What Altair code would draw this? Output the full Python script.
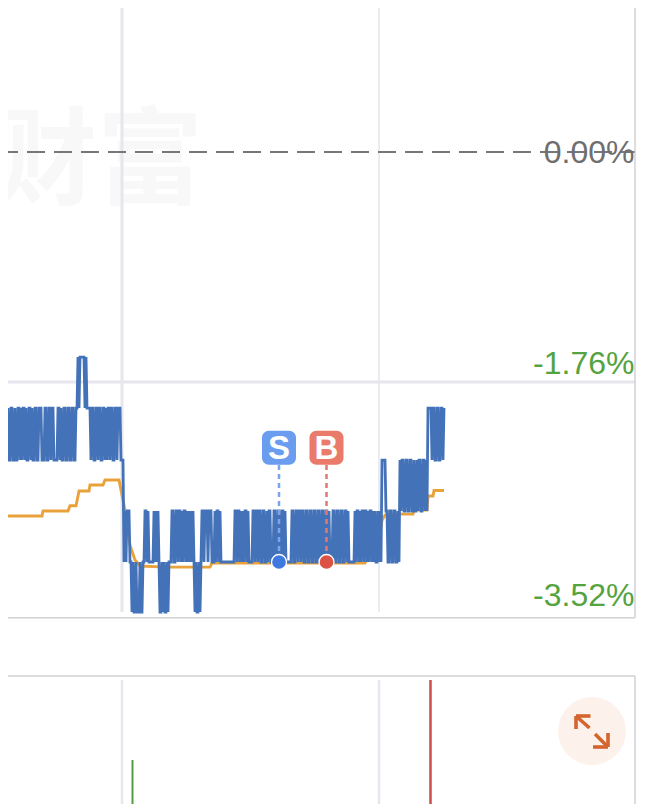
import altair as alt
import pandas as pd

# ---- price levels (percent change) that the blue series sits on
price_levels = [-3.52, -3.137, -2.747, -2.357, -1.959, -1.569]

# blue series: level index for every sampled tick, starting at tick 8
blue_start = 8
blue_a = [4,3,3,4,4,3,3,4,3,3,4,4,3,4,3,4,4,3,4,3,3,4,4,3,4,3,3,4,4,3,3,4,4,4,3,3,3,4,4,3,3,4,4,3,4,4,3,3,3,3,4,4,3,4,3,3,4,4,3,3,4,4,3,3,4,4,3,3,4,4,
          5,4,5,5,5,5,5,4,5,4,4,4,4,3,4,4,3,3,4,4,3,4,4,3,3,4,4,3,4,3,4,4,3,4,4,3,3,4,4,3,4,4,4,3,3,3]
blue_b = [1,2,1,2,2,2,1,1,0,1,0,0,1,0,0,0,1,0,0,1,1,2,2,1,2,1,1,1,1,1,2,1,2,1,2,1,0,0,1,0,1,0,0,1,0,1,1,1,
          2,2,1,1,2,2,1,2,2,1,2,1,2,2,1,2,1,2,1,2,1,2,1,0,1,0,0,1,0,1,2,2,1,2,2,2,1,2,2,2,1,1,1,2,1,2,2,1,2,1,1]
blue_c = [1,1,1,1,1,1,1,1,1,1,1,1,2,2,1,2,2,1,2,1,2,1,2,2,1,2,1,1,1,1,2,2,1,2,2,1,2,2,1,1,2,2,1,1,2,1,2,2,1,1,1,
          2,2,1,1,2,2,1,1,2,2,1,2,1,1,1,1,1,1,2,2,1,1,2,2,1,2,2,1,2]
blue_d = [2,1,1,2,2,1,1,2,2,1,1,2,2,1,1,2,2,1,1,2,2,1,1,2,2,1,2,1,1,1,
          2,2,1,1,2,2,1,1,2,2,1,1,2,2,1,2,1,1,1,1,1,1,2,1,2,2,1,2,1,2,2,1,2,2,1,2,1,
          2,2,1,2,1,2,1,1,2,1,2,1,3,3,3,3,2]
blue_e = [2,1,1,2,2,1,1,2,2,1,1,2,1,
          3,2,3,3,2,2,3,3,2,2,3,3,2,2,3,2,2,3,2,3,3,2,2,3,3,2,3,2,
          4,4,4,4,3,4,4,3,3,4,4,3,3,4,4,3,4]
blue_series = blue_a + blue_b + blue_c + blue_d + blue_e

# orange series (average price)
orange_x = [8,42,43,68,70,76,79,89,90,103,105,119,121,125,130,135,140,167,210,212,365,368,372,378,382,385,400,413,414,427,428,433,434,444]
orange_y = [-2.785,-2.785,-2.747,-2.747,-2.707,-2.707,-2.594,-2.594,-2.548,-2.548,-2.510,-2.510,-2.587,-2.740,-3.008,-3.122,-3.168,-3.176,-3.176,-3.145,-3.145,-3.107,-3.100,-3.008,-2.817,-2.778,-2.771,-2.771,-2.740,-2.740,-2.632,-2.632,-2.590,-2.590]

# axis / reference values
tick_zero, tick_mid, tick_low = 0.0, -1.76, -3.52
grid_ticks = [122, 379]
grid_widths = [3, 1.5]
frame_right = 635
label_x = 634.5
chart_left, chart_right = 8, 646
top_pct, bottom_pct = 1.102, -3.734
frame_bottom_pct = -3.564
grid_end_pct = -3.52

# trade markers
trade_tick = [279, 326.5]
trade_letter = ["S", "B"]
trade_level = -3.137
trade_badge = [-2.262, -2.262]
trade_colors = ["#6a9df0", "#ea7b6b"]
trade_dot_colors = ["#3f79e0", "#dc5345"]
trade_line_colors = ["#7ba4ee", "#e07a70"]
trade_line_top = -2.395

# volume panel
vol_tick = [132.5, 430.5]
vol_value = [52, 132]
vol_colors = ["#559c3f", "#cb4f47"]
vol_widths = [2, 2.5]
vol_top, vol_min, vol_max = 136, 8, 142

# expand button
button_tick, button_value = 592, 81
icon_segments = [
    (589.5, 84, 576, 96), (576, 96, 590.5, 96), (576, 96, 576, 83),
    (595, 78, 608, 65), (608, 65, 593, 65), (608, 65, 608, 79),
]

y_scale = alt.Scale(domain=[bottom_pct, top_pct], nice=False, zero=False)
x_up = alt.X("x:Q", axis=None, scale=alt.Scale(domain=[chart_left, chart_right], nice=False, zero=False))
y_up = alt.Y("y:Q", axis=None, scale=y_scale)
x2 = alt.X2("x2:Q")
y2 = alt.Y2("y2:Q")
v_up = alt.Y("y:Q", axis=None, scale=alt.Scale(domain=[vol_min, vol_max], nice=False, zero=False))

blue_df = pd.DataFrame({"x": [blue_start + i for i in range(len(blue_series))],
                        "y": [price_levels[l] for l in blue_series]})
orange_df = pd.DataFrame({"x": orange_x, "y": orange_y})

# watermark
watermark = alt.Chart(pd.DataFrame({"x": [203], "y": [-0.09], "t": ["财富"]})).mark_text(
    font="Noto Sans CJK SC", fontWeight="bold", fontSize=106, color="#f8f8f9", align="right", baseline="middle", clip=True
).encode(x=x_up, y=y_up, text="t:N")

grid_v = alt.Chart(pd.DataFrame({"x": grid_ticks, "y": [top_pct] * 2, "y2": [grid_end_pct] * 2, "w": grid_widths})).mark_rule(
    color="#e5e6ee", clip=True
).encode(x=x_up, y=y_up, y2=y2, strokeWidth=alt.StrokeWidth("w:Q", scale=None, legend=None))

grid_h = alt.Chart(pd.DataFrame({"x": [chart_left], "x2": [frame_right], "y": [tick_mid]})).mark_rule(
    color="#e5e6ee", strokeWidth=3, clip=True
).encode(x=x_up, x2=x2, y=y_up)

frame_r = alt.Chart(pd.DataFrame({"x": [frame_right], "y": [top_pct], "y2": [frame_bottom_pct]})).mark_rule(
    color="#d2d2d6", strokeWidth=1.5, clip=True
).encode(x=x_up, y=y_up, y2=y2)
frame_b = alt.Chart(pd.DataFrame({"x": [chart_left], "x2": [frame_right], "y": [frame_bottom_pct]})).mark_rule(
    color="#d2d2d6", strokeWidth=1.5, clip=True
).encode(x=x_up, x2=x2, y=y_up)

zero_line = alt.Chart(pd.DataFrame({"x": [chart_left], "x2": [label_x], "y": [tick_zero]})).mark_rule(
    color="#777777", strokeWidth=1.8, strokeDash=[18, 9], strokeDashOffset=8, clip=True
).encode(x=x_up, x2=x2, y=y_up)

orange = alt.Chart(orange_df).mark_line(color="#e9a23b", strokeWidth=2.9, clip=True).encode(x=x_up, y=y_up)
blue = alt.Chart(blue_df).mark_line(color="#4472b8", strokeWidth=2.8, clip=True).encode(x=x_up, y=y_up)


def label(text, pct, color, dy):
    return alt.Chart(pd.DataFrame({"x": [label_x], "y": [pct], "t": [text]})).mark_text(
        font="Liberation Sans", fontSize=32, color=color, align="right", baseline="alphabetic", dy=dy, clip=True
    ).encode(x=x_up, y=y_up, text="t:N")


labels = [label("0.00%", tick_zero, "#6f6f6f", 11), label("-1.76%", tick_mid, "#55a33f", -8), label("-3.52%", tick_low, "#55a33f", -6)]

trade_df = pd.DataFrame({"x": trade_tick, "y": trade_badge, "t": trade_letter, "c": trade_colors,
                         "d": trade_dot_colors, "l": trade_line_colors,
                         "y2": [trade_level] * 2, "yl": [trade_line_top] * 2, "yd": [trade_level] * 2})
trade_rule = alt.Chart(trade_df).mark_rule(strokeWidth=2.5, strokeDash=[5, 4], clip=True).encode(
    x=x_up, y=alt.Y("yl:Q", axis=None, scale=y_scale), y2=y2, color=alt.Color("l:N", scale=None, legend=None))
trade_dot = alt.Chart(trade_df).mark_point(filled=True, size=225, stroke="white", strokeWidth=1.3, opacity=1, shape="circle", clip=True).encode(
    x=x_up, y=alt.Y("yd:Q", axis=None, scale=y_scale), fill=alt.Fill("d:N", scale=None, legend=None))
trade_box = alt.Chart(trade_df).mark_rect(width=34, height=34, cornerRadius=7, clip=True).encode(
    x=x_up, y=y_up, color=alt.Color("c:N", scale=None, legend=None))
trade_txt = alt.Chart(trade_df).mark_text(font="Liberation Sans", fontWeight="bold", fontSize=33, color="white", baseline="middle", dy=1, clip=True).encode(
    x=x_up, y=y_up, text="t:N")

upper = alt.layer(watermark, grid_v, grid_h, frame_r, frame_b, zero_line, orange, blue, *labels,
                  trade_rule, trade_dot, trade_box, trade_txt).properties(width=638, height=632)

# ---- lower panel
low_grid = alt.Chart(pd.DataFrame({"x": grid_ticks, "y": [vol_min, vol_min], "y2": [132, 132]})).mark_rule(
    color="#e5e6ee", strokeWidth=2.5, clip=True).encode(x=x_up, y=v_up, y2=y2)
low_top = alt.Chart(pd.DataFrame({"x": [chart_left], "x2": [frame_right], "y": [vol_top]})).mark_rule(
    color="#d2d2d6", strokeWidth=1.5, clip=True).encode(x=x_up, x2=x2, y=v_up)
low_right = alt.Chart(pd.DataFrame({"x": [frame_right], "y": [vol_min], "y2": [vol_top]})).mark_rule(
    color="#d2d2d6", strokeWidth=1.5, clip=True).encode(x=x_up, y=v_up, y2=y2)
vol = alt.Chart(pd.DataFrame({"x": vol_tick, "y": [vol_min, vol_min], "y2": vol_value, "c": vol_colors, "w": vol_widths})).mark_rule(clip=True).encode(
    x=x_up, y=v_up, y2=y2, color=alt.Color("c:N", scale=None, legend=None), strokeWidth=alt.StrokeWidth("w:Q", scale=None, legend=None))
button = alt.Chart(pd.DataFrame({"x": [button_tick], "y": [button_value]})).mark_circle(
    size=4624, color="#fdf2eb", opacity=1, clip=True).encode(x=x_up, y=v_up)
icon = alt.Chart(pd.DataFrame(icon_segments, columns=["x", "y", "x2", "y2"])).mark_rule(
    color="#d4652f", strokeWidth=3.6, clip=True).encode(x=x_up, y=v_up, x2=x2, y2=y2)

lower = alt.layer(low_grid, low_top, low_right, vol, button, icon).properties(width=638, height=134)

chart = alt.vconcat(upper, lower, spacing=30).properties(padding=0, background="white").configure_view(stroke=None)

chart.save("out.html", embed_options={"renderer": "svg", "actions": False})
